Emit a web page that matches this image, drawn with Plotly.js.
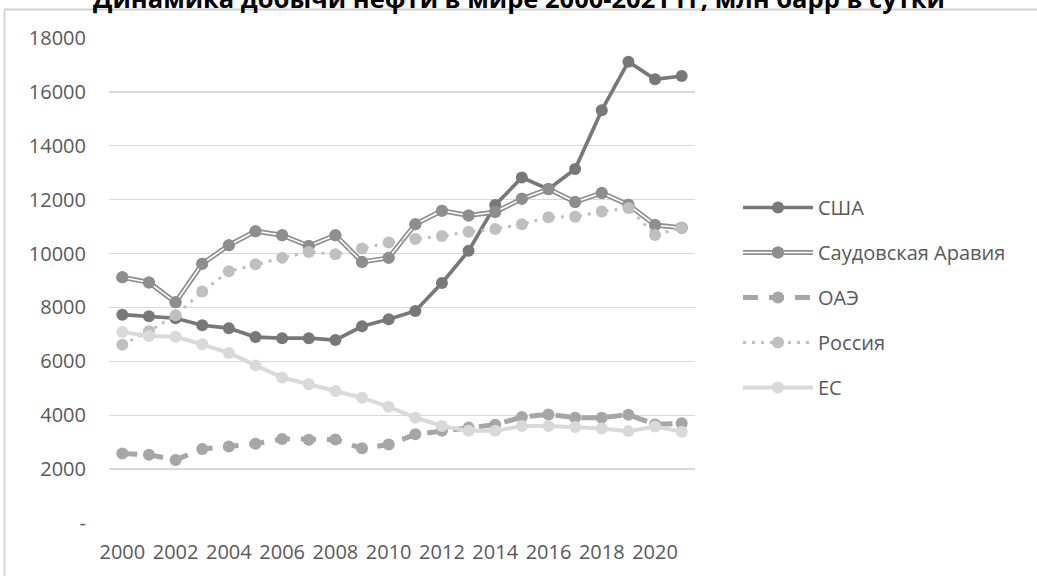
<!DOCTYPE html>
<html>
<head>
<meta charset="utf-8">
<script src="https://cdn.plot.ly/plotly-3.0.1.min.js"></script>
<style>
  html, body { margin: 0; padding: 0; background: #fff; overflow: hidden; }
  #chart { width: 1037px; height: 576px; }
</style>
</head>
<body>
<div id="chart"></div>
<script>
const years = ["2000","2001","2002","2003","2004","2005","2006","2007","2008","2009","2010",
               "2011","2012","2013","2014","2015","2016","2017","2018","2019","2020","2021"];
const usa    = [7730, 7670, 7600, 7340, 7230, 6900, 6860, 6860, 6790, 7300, 7560, 7870, 8910, 10100, 11800, 12820, 12390, 13140, 15320, 17120, 16470, 16590];
const saudi  = [9120, 8930, 8190, 9620, 10310, 10830, 10680, 10280, 10680, 9690, 9840, 11090, 11590, 11410, 11540, 12030, 12400, 11910, 12250, 11810, 11060, 10960];
const uae    = [2580, 2530, 2340, 2750, 2840, 2940, 3120, 3090, 3100, 2770, 2910, 3290, 3420, 3540, 3650, 3930, 4030, 3910, 3910, 4020, 3660, 3700];
const russia = [6620, 7120, 7710, 8590, 9340, 9600, 9840, 10060, 9970, 10190, 10410, 10540, 10650, 10810, 10910, 11090, 11350, 11370, 11560, 11690, 10690, 10960];
const eu     = [7090, 6940, 6910, 6630, 6310, 5850, 5400, 5150, 4900, 4650, 4310, 3910, 3600, 3420, 3420, 3600, 3600, 3560, 3510, 3410, 3580, 3390];

const names = ["США", "Саудовская Аравия", "ОАЭ", "Россия", "ЕС"];
const titleText = "Динамика добычи нефти в мире 2000-2021 гг, млн барр в сутки";
const yTickVals = [0, 2000, 4000, 6000, 8000, 10000, 12000, 14000, 16000, 18000];
const yTickText = ["-", "2000", "4000", "6000", "8000", "10000", "12000", "14000", "16000", "18000"];
const xTickVals = ["2000","2002","2004","2006","2008","2010","2012","2014","2016","2018","2020"];

const C = { usa: "#787878", saudi: "#8e8e8e", uae: "#a6a6a6", russia: "#bfbfbf", eu: "#d9d9d9" };
const MS = 12;

const traces = [
  { x: years, y: usa, name: names[0], type: "scatter", mode: "lines+markers", legendgroup: "a",
    line: { color: C.usa, width: 3.7 }, marker: { color: C.usa, size: MS } },
  { x: years, y: saudi, name: names[1], type: "scatter", mode: "lines+markers", legendgroup: "b",
    line: { color: C.saudi, width: 5 }, marker: { color: C.saudi, size: MS } },
  { x: years, y: saudi, name: names[1], type: "scatter", mode: "lines+markers", legend: "legend2",
    hoverinfo: "skip",
    line: { color: "#ffffff", width: 1.6 }, marker: { color: C.saudi, size: MS } },
  { x: years, y: uae, name: names[2], type: "scatter", mode: "lines+markers", legendgroup: "c",
    line: { color: C.uae, width: 5, dash: "15px,11px" }, marker: { color: C.uae, size: MS } },
  { x: years, y: russia, name: names[3], type: "scatter", mode: "lines+markers", legendgroup: "d",
    line: { color: C.russia, width: 3, dash: "3px,6px" }, marker: { color: C.russia, size: MS } },
  { x: years, y: eu, name: names[4], type: "scatter", mode: "lines+markers", legendgroup: "e",
    line: { color: C.eu, width: 4 }, marker: { color: C.eu, size: MS } }
];

const FONT = "Open Sans, Noto Sans, sans-serif";
const LEG_X = (738 - 109) / 586;
const LEG_Y = (523 - 188) / 485;
const ITEM = 45 / 485;
const FRAME_C = "#d0d0d0";
const layout = {
  width: 1037, height: 576,
  margin: { l: 109, r: 342, t: 38, b: 53, pad: 0 },
  paper_bgcolor: "#ffffff", plot_bgcolor: "#ffffff",
  font: { family: FONT, size: 20, color: "#595959" },
  annotations: [
    { text: "<b>" + titleText + "</b>", xref: "paper", yref: "paper",
      x: (518.5 - 109) / 586, y: 523 / 485, xanchor: "center", yanchor: "middle", yshift: 2.5,
      showarrow: false, font: { family: FONT, size: 25.5, color: "#000000" } }
  ],
  shapes: [
    { type: "line", xref: "paper", yref: "paper", x0: (4.5 - 109) / 586, x1: (4.5 - 109) / 586,
      y0: (523 - 600) / 485, y1: (523 - 9.5) / 485, line: { color: FRAME_C, width: 1.8 }, layer: "above" },
    { type: "line", xref: "paper", yref: "paper", x0: (4.5 - 109) / 586, x1: (1100 - 109) / 586,
      y0: (523 - 9.5) / 485, y1: (523 - 9.5) / 485, line: { color: FRAME_C, width: 1.8 }, layer: "above" }
  ],
  xaxis: { type: "category", range: [-0.5, 21.5], tickmode: "array", tickvals: xTickVals,
           showgrid: false, zeroline: false, showline: false, ticks: "",
           ticklabelstandoff: 15, tickfont: { family: FONT, size: 20, color: "#595959" }, fixedrange: true },
  yaxis: { range: [0, 18000], tickmode: "array", tickvals: yTickVals, ticktext: yTickText,
           showgrid: true, gridcolor: "#d9d9d9", gridwidth: 1.3, zeroline: false, showline: false, ticks: "",
           ticklabelstandoff: 22, tickfont: { family: FONT, size: 20, color: "#595959" }, fixedrange: true },
  legend: { x: LEG_X, xanchor: "left", y: LEG_Y, yanchor: "top", tracegroupgap: 16,
            font: { family: FONT, size: 20, color: "#595959" }, bgcolor: "rgba(0,0,0,0)", itemwidth: 70 },
  legend2: { x: LEG_X, xanchor: "left", y: LEG_Y - ITEM, yanchor: "top",
            font: { family: FONT, size: 20, color: "rgba(0,0,0,0)" }, bgcolor: "rgba(0,0,0,0)", itemwidth: 70 },
  showlegend: true
};

Plotly.newPlot("chart", traces, layout, { displayModeBar: false, staticPlot: true });
</script>
</body>
</html>
